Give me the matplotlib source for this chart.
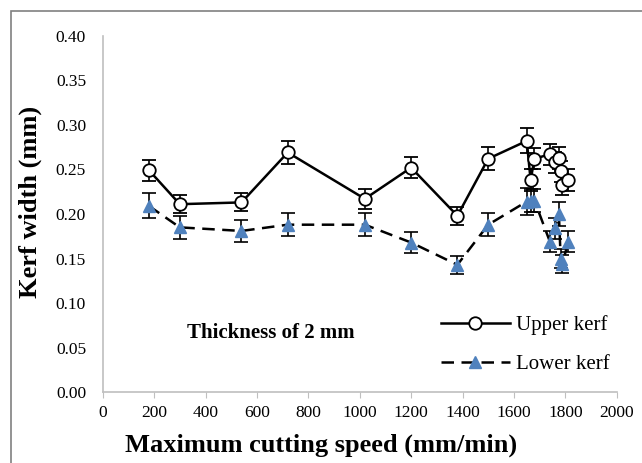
import matplotlib
matplotlib.use("Agg")
import matplotlib.pyplot as plt
from matplotlib.patches import Rectangle

# Cutting speed (mm/min)
speed = [180, 300, 540, 720, 1020, 1200, 1380, 1500, 1650, 1665, 1680,
         1740, 1760, 1775, 1782, 1788, 1812]

# Kerf widths (mm) and their error bars
upper_kerf = [0.249, 0.211, 0.213, 0.269, 0.217, 0.252, 0.198, 0.262, 0.282,
              0.238, 0.262, 0.267, 0.258, 0.263, 0.248, 0.233, 0.238]
upper_err = [0.012, 0.010, 0.010, 0.013, 0.011, 0.012, 0.010, 0.013, 0.014,
             0.012, 0.012, 0.012, 0.012, 0.012, 0.012, 0.012, 0.012]
lower_kerf = [0.209, 0.185, 0.181, 0.188, 0.188, 0.168, 0.143, 0.188, 0.214,
              0.215, 0.215, 0.169, 0.184, 0.200, 0.150, 0.144, 0.169]
lower_err = [0.014, 0.013, 0.012, 0.013, 0.013, 0.012, 0.010, 0.013, 0.015,
             0.013, 0.013, 0.012, 0.012, 0.013, 0.011, 0.010, 0.012]
series_names = ['Upper kerf', 'Lower kerf']

plt.rcParams['font.family'] = ['Liberation Serif', 'DejaVu Serif']

fig = plt.figure(figsize=(6.42, 4.63), dpi=100)
ax = fig.add_axes([0.160, 0.1527, 0.8006, 0.7702])

up = ax.errorbar(speed, upper_kerf, yerr=upper_err, color='black', lw=1.8,
                 marker='o', ms=9, mfc='white', mec='black', mew=1.3,
                 ecolor='black', elinewidth=1.2, capsize=5, capthick=1.2,
                 zorder=3)
low = ax.errorbar(speed, lower_kerf, yerr=lower_err, color='black', lw=1.8,
                  ls=(0, (5, 3)), marker='^', ms=9, mfc='#4F81BD', mec='#4F81BD',
                  ecolor='black', elinewidth=1.2, capsize=5, capthick=1.2,
                  zorder=3)

ax.set_xlim(0, 2000)
ax.set_ylim(0, 0.40)
ax.set_xticks(range(0, 2001, 200))
ax.set_yticks([i * 0.05 for i in range(9)])
ax.set_yticklabels(["%.2f" % (i * 0.05) for i in range(9)])
ax.tick_params(axis='x', length=4, color='#BFBFBF', labelsize=12.5, pad=5)
ax.tick_params(axis='y', length=0, labelsize=12.5, pad=12)

for s in ['top', 'right']:
    ax.spines[s].set_visible(False)
for s in ['left', 'bottom']:
    ax.spines[s].set_color('#BFBFBF')
    ax.spines[s].set_linewidth(1.2)

# axis titles are centred on the chart area, not the plot area
fig.text(0.5, 1 - 445 / 463, "Maximum cutting speed (mm/min)", fontsize=19,
         fontweight='bold', ha='center', va='center')
fig.text(30 / 642, 1 - 202 / 463, "Kerf width (mm)", fontsize=19,
         fontweight='bold', ha='center', va='center', rotation=90)

ax.text(655, 0.066, "Thickness of 2 mm", fontsize=15, fontweight='bold',
        ha='center', va='center')

ax.legend(handles=[up[0], low[0]], labels=series_names, loc='center left',
          bbox_to_anchor=(0.658, 0.1335), borderaxespad=0, borderpad=0,
          frameon=False, fontsize=15, handlelength=3.3, labelspacing=0.9,
          handletextpad=0.3)

fig.patches.append(Rectangle((11 / 642, -0.1), 1.2, 1.1 - 11 / 463,
                             transform=fig.transFigure, fill=False,
                             edgecolor='#808080', lw=1.2))

fig.savefig("out.png", dpi=100)
